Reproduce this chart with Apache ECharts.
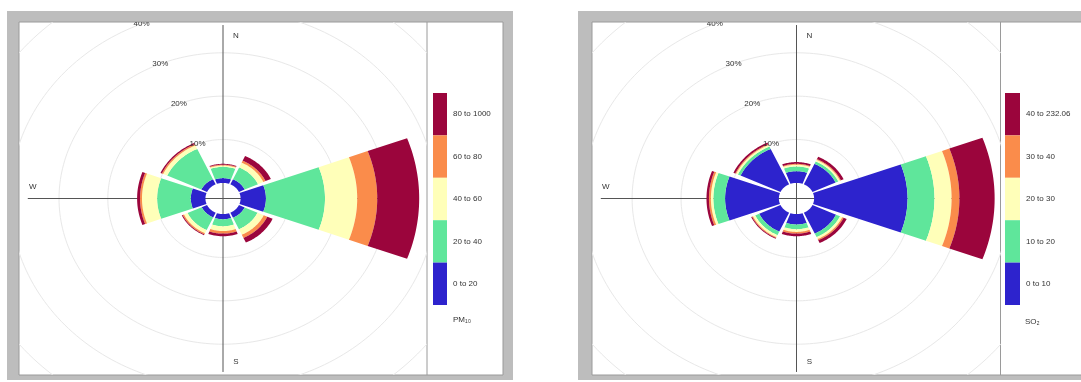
<!DOCTYPE html>
<html>
<head>
<meta charset="utf-8">
<script src="https://cdn.jsdelivr.net/npm/echarts@6/dist/echarts.min.js"></script>
<style>
  html, body { margin: 0; padding: 0; background: #fff; }
  #chart { width: 1081px; height: 382px; }
</style>
</head>
<body>
<div id="chart"></div>
<script>
// Wind sectors (degrees clockwise from north) and the rings of the polar scale (%).
const directions = [0, 45, 90, 135, 180, 225, 270, 315];
const gridPercents = [10, 20, 30, 40, 50];
const labelPercents = [10, 20, 30, 40];
const compassLabels = ['N', 'E', 'S', 'W'];

// PM10 concentration intervals and the share of hours (%) per sector.
const pm10Intervals = ['0 to 20', '20 to 40', '40 to 60', '60 to 80', '80 to 1000'];
const pm10Band0to20   = [1.1, 1.3, 5.2, 1.3, 1.2, 1.2, 3.0, 1.3];
const pm10Band20to40  = [2.6, 3.0, 12.1, 2.9, 1.6, 3.2, 6.9, 7.7];
const pm10Band40to60  = [0.3, 1.2, 6.6, 1.4, 1.1, 0.8, 3.1, 0.9];
const pm10Band60to80  = [0.2, 0.5, 4.1, 0.8, 0.6, 0.3, 0.4, 0.3];
const pm10Band80to1000 = [0.2, 1.2, 8.6, 1.2, 0.6, 0.2, 0.6, 0.3];

// SO2 concentration intervals and the share of hours (%) per sector.
const so2Intervals = ['0 to 10', '10 to 20', '20 to 30', '30 to 40', '40 to 232.06'];
const so2Band0to10   = [2.7, 5.2, 19.1, 5.3, 2.4, 4.8, 11.0, 9.0];
const so2Band10to20  = [1.1, 0.6, 5.5, 0.9, 1.1, 0.9, 2.4, 0.6];
const so2Band20to30  = [0.4, 0.4, 3.5, 0.5, 0.6, 0.5, 0.5, 0.4];
const so2Band30to40  = [0.2, 0.2, 1.6, 0.3, 0.4, 0.2, 0.4, 0.2];
const so2Band40to232 = [0.4, 0.6, 7.2, 0.7, 0.6, 0.2, 0.5, 0.4];

const bandColors = ['#2d23cd', '#5fe69b', '#ffffb9', '#fa8c4b', '#9b053c'];

// Polar layout constants (in % units of the radial scale).
const HOLE = 3.6;           // empty disc in the middle
const SECTOR = 45;          // angular width of a sector
const SEG = 0.9;            // fraction of the sector filled by a wedge
const LABEL_ANGLE = 337.5;  // where the ring labels sit
const AXIS_LEN = 40;        // half-length of the N-S / E-W lines
const FONT = 'Liberation Sans, Arial, sans-serif';

function stackWedges(bands) {
  const out = [];
  directions.forEach((dir, i) => {
    let base = 0;
    bands.forEach((vals, b) => {
      out.push([dir, base, base + vals[i], b]);
      base += vals[i];
    });
  });
  return out;
}

function polarPoint(api, r, deg) {
  const a = deg * Math.PI / 180;
  return api.coord([r * Math.sin(a), r * Math.cos(a)]);
}

function renderWedge(params, api) {
  const dir = api.value(0);
  const r0 = api.value(1) + HOLE;
  const r1 = api.value(2) + HOLE;
  const half = SECTOR * SEG / 2;
  const steps = 30;
  const pts = [];
  for (let i = 0; i <= steps; i++) pts.push(polarPoint(api, r1, dir - half + 2 * half * i / steps));
  for (let i = steps; i >= 0; i--) pts.push(polarPoint(api, r0, dir - half + 2 * half * i / steps));
  return { type: 'polygon', shape: { points: pts }, style: { fill: api.visual('color') } };
}

function renderRing(params, api) {
  const r = api.value(0) + HOLE;
  const pts = [];
  for (let k = 0; k <= 240; k++) pts.push(polarPoint(api, r, k * 1.5));
  return { type: 'polyline', shape: { points: pts }, style: { stroke: '#e8e8e8', lineWidth: 1, fill: null } };
}

function renderRingLabel(params, api) {
  const p = polarPoint(api, api.value(0) + HOLE, LABEL_ANGLE);
  return {
    type: 'text', x: p[0], y: p[1],
    style: { text: api.value(0) + '%', fill: '#333', fontSize: 8, fontFamily: FONT, align: 'center', verticalAlign: 'middle' }
  };
}

function renderCompass(params, api) {
  const n = api.coord([0, AXIS_LEN]), s = api.coord([0, -AXIS_LEN]);
  const w = api.coord([-AXIS_LEN, 0]), e = api.coord([AXIS_LEN, 0]);
  const lineStyle = { stroke: '#555', lineWidth: 1 };
  const textStyle = (t) => ({ text: t, fill: '#333', fontSize: 8, fontFamily: FONT, align: 'center', verticalAlign: 'middle' });
  const lp = {
    N: api.coord([0, 37.6]), S: api.coord([0, -37.6]),
    W: api.coord([-39, 0]), E: api.coord([39, 0])
  };
  const off = { N: [13, 0], S: [13, 0], W: [0, -12], E: [0, -12] };
  const children = [
    { type: 'line', shape: { x1: n[0], y1: n[1], x2: s[0], y2: s[1] }, style: lineStyle },
    { type: 'line', shape: { x1: w[0], y1: w[1], x2: e[0], y2: e[1] }, style: lineStyle }
  ];
  compassLabels.forEach((c) => {
    children.push({ type: 'text', x: lp[c][0] + off[c][0], y: lp[c][1] + off[c][1], style: textStyle(c) });
  });
  return { type: 'group', children };
}

function roseSeries(idx, bands) {
  return [
    { type: 'custom', xAxisIndex: idx, yAxisIndex: idx, clip: true, silent: true,
      data: gridPercents.map((p) => [p, 0]), renderItem: renderRing },
    { type: 'custom', xAxisIndex: idx, yAxisIndex: idx, clip: true, silent: true,
      data: [[0, 0]], renderItem: renderCompass },
    { type: 'custom', xAxisIndex: idx, yAxisIndex: idx, clip: true,
      data: stackWedges(bands), renderItem: renderWedge },
    { type: 'custom', xAxisIndex: idx, yAxisIndex: idx, clip: true, silent: true,
      data: labelPercents.map((p) => [p, 0]), renderItem: renderRingLabel }
  ];
}

function keyMap(seriesIndex, intervals, left, width) {
  return {
    type: 'piecewise', seriesIndex, dimension: 3, orient: 'vertical', align: 'left',
    pieces: intervals.map((label, i) => ({ value: i, label, color: bandColors[i] })),
    left, top: 93, itemWidth: width, itemHeight: 42.4, itemGap: 0, textGap: 6, padding: 0,
    itemSymbol: 'rect', hoverLink: false, selectedMode: false,
    textStyle: { fontSize: 8, color: '#333', fontFamily: FONT }
  };
}

const pm10Bands = [pm10Band0to20, pm10Band20to40, pm10Band40to60, pm10Band60to80, pm10Band80to1000];
const so2Bands = [so2Band0to10, so2Band10to20, so2Band20to30, so2Band30to40, so2Band40to232];

const axisX = { type: 'value', min: -41.8, max: 41.8, show: false };
const axisY = { type: 'value', min: -40.7, max: 40.7, show: false };

const chart = echarts.init(document.getElementById('chart'));
chart.setOption({
  animation: false,
  backgroundColor: '#fff',
  grid: [
    { left: 19, top: 22, width: 408, height: 353 },
    { left: 592, top: 22, width: 409, height: 353 }
  ],
  xAxis: [Object.assign({ gridIndex: 0 }, axisX), Object.assign({ gridIndex: 1 }, axisX)],
  yAxis: [Object.assign({ gridIndex: 0 }, axisY), Object.assign({ gridIndex: 1 }, axisY)],
  series: [].concat(roseSeries(0, pm10Bands), roseSeries(1, so2Bands)),
  visualMap: [
    keyMap(2, pm10Intervals, 433, 14),
    keyMap(6, so2Intervals, 1005, 15)
  ],
  graphic: [
    { type: 'rect', shape: { x: 7, y: 11, width: 506, height: 369 }, style: { fill: '#bdbdbd' }, silent: true },
    { type: 'rect', shape: { x: 19, y: 22, width: 484, height: 353 }, style: { fill: '#fff', stroke: '#9a9a9a', lineWidth: 1 }, silent: true },
    { type: 'line', shape: { x1: 427, y1: 22, x2: 427, y2: 375 }, style: { stroke: '#9a9a9a', lineWidth: 1 }, silent: true },
    { type: 'text', x: 453, y: 320, style: { text: 'PM₁₀', fill: '#333', fontSize: 8, fontFamily: FONT, verticalAlign: 'middle' }, silent: true },

    { type: 'rect', shape: { x: 578, y: 11, width: 520, height: 369 }, style: { fill: '#bdbdbd' }, silent: true },
    { type: 'rect', shape: { x: 592, y: 22, width: 500, height: 353 }, style: { fill: '#fff', stroke: '#9a9a9a', lineWidth: 1 }, silent: true },
    { type: 'line', shape: { x1: 1000.5, y1: 22, x2: 1000.5, y2: 375 }, style: { stroke: '#9a9a9a', lineWidth: 1 }, silent: true },
    { type: 'text', x: 1025, y: 322, style: { text: 'SO₂', fill: '#333', fontSize: 8, fontFamily: FONT, verticalAlign: 'middle' }, silent: true }
  ]
});
</script>
</body>
</html>
